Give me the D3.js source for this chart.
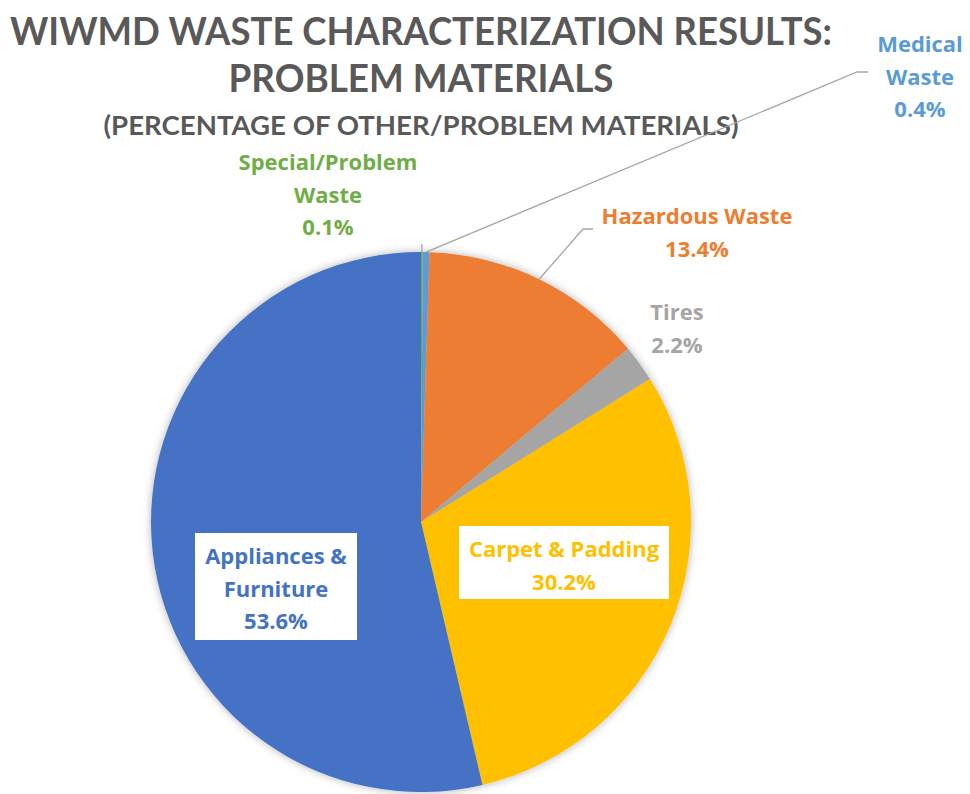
<!DOCTYPE html>
<html><head><meta charset="utf-8">
<script src="https://cdn.jsdelivr.net/npm/d3@7"></script>
<style>html,body{margin:0;padding:0;background:#fff;} svg{display:block;}</style>
</head><body>
<svg id="chart" width="970" height="794"></svg>
<script>
// ---- data ----
const categories = ["Special/Problem Waste", "Medical Waste", "Hazardous Waste", "Tires", "Carpet & Padding", "Appliances & Furniture"];
const values = [0.1, 0.4, 13.4, 2.2, 30.2, 53.6];
const labelLines = [["Special/Problem", "Waste"], ["Medical", "Waste"], ["Hazardous Waste"], ["Tires"], ["Carpet & Padding"], ["Appliances &", "Furniture"]];
const titleLines = ["WIWMD WASTE CHARACTERIZATION RESULTS:", "PROBLEM MATERIALS", "(PERCENTAGE OF OTHER/PROBLEM MATERIALS)"];

// ---- styles / layout ----
const colors = ["#70AD47", "#5B9BD5", "#ED7D31", "#A5A5A5", "#FFC000", "#4472C4"];
const cx = 421, cy = 522, R = 270;
const lineH = 32.5, fontSize = 22;
const labelLayout = [
  {x: 328, y: 170, leader: [[0, -8]]},
  {x: 920, y: 52, leader: [[857, 72], [868, 72]]},
  {x: 697, y: 224, leader: [[583, 229], [593, 229]]},
  {x: 677, y: 320},
  {x: 564, y: 557, box: [459, 526, 210, 73]},
  {x: 276, y: 564, box: [195, 533, 162, 107]}
];

const svg = d3.select("#chart");
const defs = svg.append("defs");
const f = defs.append("filter").attr("id", "sh").attr("x", "-10%").attr("y", "-10%").attr("width", "120%").attr("height", "120%");
f.append("feDropShadow").attr("dx", 0).attr("dy", 0).attr("stdDeviation", 4).attr("flood-color", "#000").attr("flood-opacity", 0.3);

// title
const titleY = [45, 92, 135], titleSize = [38, 38, 27], titleW = [822, 385, 635];
titleLines.forEach((t, i) => {
  svg.append("text").attr("x", cx).attr("y", titleY[i]).attr("text-anchor", "middle")
    .attr("font-family", "Lato, 'Open Sans', sans-serif").attr("font-weight", "bold")
    .attr("font-size", titleSize[i]).attr("fill", "#595959")
    .attr("textLength", titleW[i]).attr("lengthAdjust", "spacingAndGlyphs").text(t);
});

const pie = d3.pie().sort(null).value(d => d)(values);
const arc = d3.arc().innerRadius(0).outerRadius(R);
const g = svg.append("g").attr("transform", `translate(${cx},${cy})`);
g.append("g").attr("filter", "url(#sh)").selectAll("path").data(pie).join("path")
  .attr("d", arc).attr("fill", (d, i) => colors[i]);

// leader lines
pie.forEach((d, i) => {
  const L = labelLayout[i];
  if (!L.leader) return;
  const a = (d.startAngle + d.endAngle) / 2;
  const p0 = [cx + R * Math.sin(a), cy - R * Math.cos(a)];
  let pts = [p0];
  L.leader.forEach(p => {
    if (i === 0) pts.push([p0[0] + p[0], p0[1] + p[1]]); else pts.push(p);
  });
  svg.append("path").attr("d", d3.line()(pts)).attr("fill", "none").attr("stroke", "#A6A6A6").attr("stroke-width", 1.3);
});

// labels
pie.forEach((d, i) => {
  const L = labelLayout[i];
  if (L.box) svg.append("rect").attr("x", L.box[0]).attr("y", L.box[1]).attr("width", L.box[2]).attr("height", L.box[3]).attr("fill", "#fff");
  const lines = labelLines[i].concat([values[i].toFixed(1) + "%"]);
  const t = svg.append("text").attr("text-anchor", "middle")
    .attr("font-family", "'Open Sans', Lato, sans-serif").attr("font-weight", "bold")
    .attr("font-size", fontSize).attr("fill", colors[i]);
  lines.forEach((s, k) => t.append("tspan").attr("x", L.x).attr("y", L.y + k * lineH).text(s));
});
</script>
</body></html>
